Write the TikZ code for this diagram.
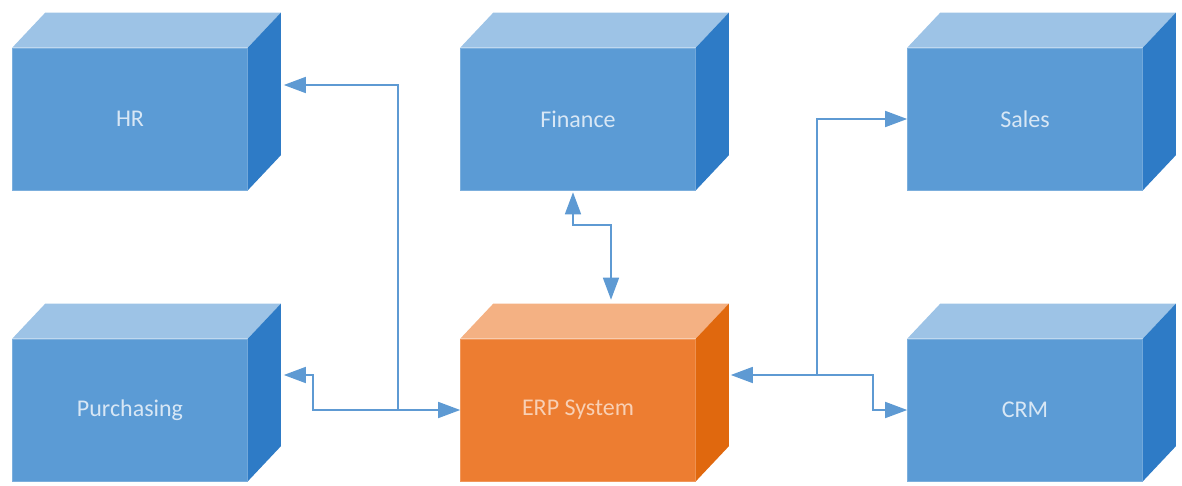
\documentclass[tikz,border=0pt]{standalone}
\usepackage{fontspec}
\setmainfont{Carlito}
\usetikzlibrary{arrows.meta}

\definecolor{boxblue}{HTML}{5B9BD5}
\definecolor{boxbluetop}{HTML}{9DC3E6}
\definecolor{boxblueside}{HTML}{2E7BC6}
\definecolor{boxorange}{HTML}{ED7D31}
\definecolor{boxorangetop}{HTML}{F4B183}
\definecolor{boxorangeside}{HTML}{E0680E}
\definecolor{linkblue}{HTML}{5E9AD3}

\tikzset{
  module/.style={minimum width=235pt, minimum height=142pt, inner sep=0pt,
    fill=boxblue, draw=boxblue!80!white, line width=0.6pt,
    font=\fontsize{24}{28}\selectfont, text=boxbluetop!40!white},
  core/.style={module, fill=boxorange, draw=boxorange!80!white,
    text=boxorangetop!60!white},
  link/.style={draw=linkblue, line width=1.6pt},
  tip/.style={-{Triangle[length=22pt,width=16pt]}},
  tips/.style={{Triangle[length=22pt,width=16pt]}-{Triangle[length=22pt,width=16pt]}},
}

% top and right faces of a box: node, top colour, side colour
\newcommand{\boxfaces}[3]{
  \fill[#2] (#1.north west) -- ++(33,-35) -- ([shift={(33,-35)}]#1.north east) -- (#1.north east) -- cycle;
  \fill[#3] (#1.north east) -- ++(33,-35) -- ([shift={(33,-35)}]#1.south east) -- (#1.south east) -- cycle;
}

\begin{document}
\begin{tikzpicture}[x=1pt, y=-1pt]
  \useasboundingbox (0,0) rectangle (1182,485);

  % Boxes
  \node[module] (hr) at (130,119) {HR};
  \node[module] (finance) at (578,119) {Finance};
  \node[module] (sales) at (1025,119) {Sales};
  \node[module] (purchasing) at (130,410) {Purchasing};
  \node[core] (erp) at (578,410) {ERP System};
  \node[module] (crm) at (1025,410) {CRM};

  \foreach \b in {hr, finance, sales, purchasing, crm} {
    \boxfaces{\b}{boxbluetop}{boxblueside}
  }
  \boxfaces{erp}{boxorangetop}{boxorangeside}

  % Bend points
  \coordinate (hrtip) at ([shift={(36,-34)}]hr.east);
  \coordinate (putip) at ([shift={(36,-35)}]purchasing.east);
  \coordinate (erptip) at ([shift={(35,-35)}]erp.east);
  \coordinate (fitip) at ([shift={(-5,2)}]finance.south);
  \coordinate (ertop) at ([shift={(33,-39)}]erp.north);
  \coordinate (leftjoin) at (398,410);
  \coordinate (rightjoin) at (817,375);

  % Left links
  \draw[link, tips] (putip) -| (313,410) -- (erp.west);
  \draw[link, tip] (leftjoin) |- (hrtip);

  % Finance link
  \draw[link, tips] (fitip) |- (ertop |- 0,225) -- (ertop);

  % Right links
  \draw[link, tip] (873,375) -- (erptip);
  \draw[link, tip] (rightjoin) |- (sales.west);
  \draw[link, tip] (rightjoin) -| (873,410) -- (crm.west);
\end{tikzpicture}
\end{document}
